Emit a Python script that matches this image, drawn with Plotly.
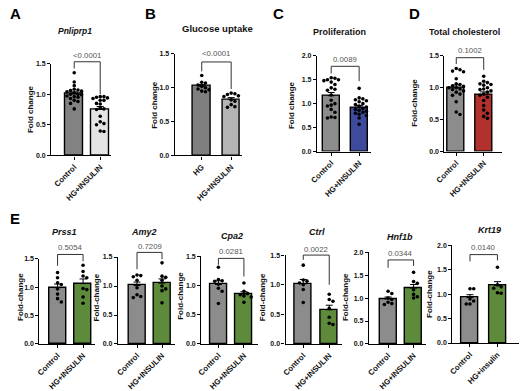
import numpy as np
import plotly.graph_objects as go

W, H = 520, 391

# ---------------- data ----------------
A_title = "Pnliprp1"
A_cats = ["Control", "HG+INSULIN"]
A_control = [1.35, 1.2, 1.14, 1.08, 1.07, 1.06, 1.05, 1.04, 1.02, 1.0, 1.0, 0.99, 0.97, 0.96, 0.95, 0.93, 0.9, 0.88, 0.85, 0.76]
A_treated = [0.96, 0.96, 0.95, 0.94, 0.93, 0.9, 0.9, 0.85, 0.84, 0.78, 0.76, 0.75, 0.64, 0.55, 0.52, 0.5, 0.4, 0.39]
A_p = "<0.0001"

B_title = "Glucose uptake"
B_cats = ["HG", "HG+INSULIN"]
B_control = [1.18, 1.08, 1.07, 1.04, 1.02, 1.0, 0.98, 0.97, 0.95, 0.94]
B_treated = [0.92, 0.91, 0.9, 0.88, 0.87, 0.82, 0.8, 0.75, 0.72, 0.71]
B_p = "<0.0001"

C_title = "Proliferation"
C_cats = ["Control", "HG+INSULIN"]
C_control = [1.54, 1.53, 1.5, 1.5, 1.48, 1.45, 1.4, 1.33, 1.3, 1.28, 1.18, 1.07, 1.0, 0.97, 0.95, 0.88, 0.82, 0.72, 0.71, 0.7]
C_treated = [1.32, 1.12, 1.1, 1.08, 1.06, 1.04, 1.0, 0.98, 0.95, 0.93, 0.9, 0.88, 0.86, 0.84, 0.82, 0.8, 0.78, 0.75, 0.7, 0.57]
C_p = "0.0089"

D_title = "Total cholesterol"
D_cats = ["Control", "HG+INSULIN"]
D_control = [1.3, 1.28, 1.26, 1.25, 1.14, 1.06, 1.05, 1.03, 1.02, 1.0, 1.0, 0.98, 0.97, 0.95, 0.93, 0.9, 0.88, 0.78, 0.62, 0.58]
D_treated = [1.18, 1.1, 1.08, 1.06, 1.05, 1.04, 1.0, 0.98, 0.97, 0.95, 0.93, 0.9, 0.88, 0.85, 0.8, 0.72, 0.65, 0.6, 0.55, 0.52]
D_p = "0.1002"

E_cats = ["Control", "HG+INSULIN"]
Krt19_cats = ["Control", "HG+insulin"]

Prss1_control = [1.26, 1.17, 1.08, 1.05, 0.97, 0.88, 0.8, 0.74]
Prss1_treated = [1.39, 1.28, 1.2, 1.17, 0.98, 0.96, 0.83, 0.72]
Prss1_p = "0.5054"

Amy2_control = [1.19, 1.18, 1.16, 1.1, 0.97, 0.85, 0.82, 0.8]
Amy2_treated = [1.4, 1.17, 1.15, 1.1, 1.0, 0.95, 0.92, 0.71]
Amy2_p = "0.7209"

Cpa2_control = [1.31, 1.1, 1.08, 1.07, 1.02, 0.95, 0.9, 0.69]
Cpa2_treated = [1.04, 0.9, 0.86, 0.84, 0.82, 0.8, 0.71]
Cpa2_p = "0.0281"

Ctrl_control = [1.33, 1.08, 1.06, 1.03, 1.0, 0.92, 0.7]
Ctrl_treated = [0.84, 0.75, 0.72, 0.6, 0.45, 0.35, 0.33]
Ctrl_p = "0.0022"

Hnf1b_control = [1.15, 1.1, 1.0, 0.97, 0.91, 0.88, 0.86]
Hnf1b_treated = [1.56, 1.36, 1.32, 1.18, 1.08, 1.03, 1.0]
Hnf1b_p = "0.0344"

Krt19_control = [1.11, 1.11, 0.9, 0.86, 0.8, 0.8]
Krt19_treated = [1.55, 1.19, 1.15, 1.12, 1.03, 1.02]
Krt19_p = "0.0140"

# ---------------- styles ----------------
GRAY = "#8c8c8c"
GREEN = "#5e8a3c"
FONT = "Arial, Liberation Sans, sans-serif"

panels = [
    dict(title=A_title, italic=True, cats=A_cats, g=[A_control, A_treated], p=A_p,
         colors=["#828282", "#e4e4e4"], ylab="Fold change",
         geo=(42, 103, 65.5, 92, 155, 61, 1.5), tpos=(66, 28), ylpos=(21, 108),
         br=(1.53, 1.42, 1.0, 1.64), tsize=8.5),
    dict(title=B_title, italic=False, cats=B_cats, g=[B_control, B_treated], p=B_p,
         colors=["#7f7f7f", "#b4b4b4"], ylab="Fold change",
         geo=(168, 237, 195.5, 225.5, 155, 51, 1.5), tpos=(212, 25), ylpos=(147, 103),
         br=(1.38, 1.24, 0.98, 1.5), tsize=9.5),
    dict(title=C_title, italic=False, cats=C_cats, g=[C_control, C_treated], p=C_p,
         colors=[GRAY, "#3e4a9c"], ylab="Fold change",
         geo=(313, 368, 327.5, 356, 151, 53, 2.0), tpos=(336, 29), ylpos=(287, 103),
         br=(1.78, 1.63, 1.47, 1.92), tsize=9),
    dict(title=D_title, italic=False, cats=D_cats, g=[D_control, D_treated], p=D_p,
         colors=[GRAY, "#b2312d"], ylab="Fold-change",
         geo=(443, 502, 455, 483, 151, 53, 1.5), tpos=(463, 29), ylpos=(413, 101),
         br=(1.47, 1.37, 1.28, 1.58), tsize=9),
    dict(title="Prss1", italic=True, cats=E_cats, g=[Prss1_control, Prss1_treated], p=Prss1_p,
         colors=[GRAY, GREEN], ylab="Fold-change",
         geo=(30, 87, 48.5, 74.5, 348, 261, 1.5), tpos=(56, 233), ylpos=(10, 300),
         br=(1.58, 1.38, 1.46, 1.7), tsize=9),
    dict(title="Amy2", italic=True, cats=E_cats, g=[Amy2_control, Amy2_treated], p=Amy2_p,
         colors=[GRAY, GREEN], ylab="Fold-change",
         geo=(110, 168, 129.5, 155, 348, 259, 1.5), tpos=(137, 233), ylpos=(88, 300),
         br=(1.58, 1.29, 1.46, 1.69), tsize=9),
    dict(title="Cpa2", italic=True, cats=E_cats, g=[Cpa2_control, Cpa2_treated], p=Cpa2_p,
         colors=[GRAY, GREEN], ylab="Fold-change",
         geo=(195, 253, 212.5, 238.5, 348, 258, 1.5), tpos=(226, 237), ylpos=(173, 299),
         br=(1.46, 1.35, 1.15, 1.57), tsize=9),
    dict(title="Ctrl", italic=True, cats=E_cats, g=[Ctrl_control, Ctrl_treated], p=Ctrl_p,
         colors=[GRAY, GREEN], ylab="Fold-change",
         geo=(281, 339, 299, 325.5, 348, 257, 1.5), tpos=(313, 233), ylpos=(257, 300),
         br=(1.5, 1.42, 1.0, 1.6), tsize=9),
    dict(title="Hnf1b", italic=True, cats=E_cats, g=[Hnf1b_control, Hnf1b_treated], p=Hnf1b_p,
         colors=[GRAY, GREEN], ylab="Fold-change",
         geo=(366, 424, 385.5, 411.5, 348, 254, 2.0), tpos=(398, 238), ylpos=(341.5, 300),
         br=(1.83, 1.66, 1.7, 1.97), tsize=9),
    dict(title="Krt19", italic=True, cats=Krt19_cats, g=[Krt19_control, Krt19_treated], p=Krt19_p,
         colors=[GRAY, GREEN], ylab="Fold-change",
         geo=(451, 519, 469, 497, 347, 247, 2.0), tpos=(489, 231), ylpos=(427, 297),
         br=(1.81, 1.67, 1.69, 1.96), tsize=9),
]

letters = [("A", 6, 10), ("B", 143, 10), ("C", 274, 10), ("D", 412, 10), ("E", 5, 220)]


def swarm(vals, ppu_y, ppu_x, d=3.7):
    vals = np.asarray(vals, float)
    order = np.argsort(-vals)
    cands = [0, 3.8, -3.8, 7.4, -7.4, 1.9, -1.9, 5.6, -5.6]
    placed = []
    offs = np.zeros(len(vals))
    for i in order:
        y = vals[i] * ppu_y
        best, bestd = 0, -1
        for c in cands:
            md = min([np.hypot(c - px, y - py) for px, py in placed] or [99])
            if md >= d:
                best = c
                break
            if md > bestd:
                best, bestd = c, md
        placed.append((best, y))
        offs[i] = best / ppu_x
    return offs


fig = go.Figure()
shapes, annotations = [], []
layout_axes = {}

for k, pnl in enumerate(panels, start=1):
    xl, xr, c0, c1, y0, yt, ymax = pnl["geo"]
    ppu_x = c1 - c0
    ppu_y = (y0 - yt) / ymax
    xa = "x" if k == 1 else f"x{k}"
    ya = "y" if k == 1 else f"y{k}"

    means = [float(np.mean(g)) for g in pnl["g"]]
    sems = [float(np.std(g, ddof=1) / np.sqrt(len(g))) for g in pnl["g"]]

    fig.add_trace(go.Bar(
        x=[0, 1], y=means, width=17.5 / ppu_x, xaxis=xa, yaxis=ya,
        marker=dict(color=pnl["colors"], line=dict(color="black", width=1.4)),
        error_y=dict(type="data", symmetric=False, array=sems, arrayminus=[0, 0],
                     color="black", thickness=1, width=3.5),
        showlegend=False, hoverinfo="skip"))
    for j, g in enumerate(pnl["g"]):
        offs = swarm(g, ppu_y, ppu_x)
        fig.add_trace(go.Scatter(
            x=j + offs, y=g, mode="markers", xaxis=xa, yaxis=ya,
            marker=dict(color="black", size=3.6, line=dict(width=0)),
            showlegend=False, hoverinfo="skip", cliponaxis=False))

    axis_common = dict(
        showline=True, linecolor="black", linewidth=1.2, ticks="outside",
        ticklen=3, tickwidth=1.1, tickcolor="black", showgrid=False, zeroline=False,
        fixedrange=True)
    layout_axes["xaxis" if k == 1 else f"xaxis{k}"] = dict(
        domain=[xl / W, xr / W], anchor=ya,
        range=[-(c0 - xl) / ppu_x, 1 + (xr - c1) / ppu_x],
        tickmode="array", tickvals=[0, 1], ticktext=pnl["cats"], tickangle=-45,
        tickfont=dict(size=7.8, color="#111", family=FONT, weight="bold"),
        **axis_common)
    layout_axes["yaxis" if k == 1 else f"yaxis{k}"] = dict(
        domain=[1 - y0 / H, 1 - yt / H], anchor=xa, range=[0, ymax],
        tickmode="linear", tick0=0, dtick=0.5, tickformat=".1f",
        tickfont=dict(size=7, color="#111", family=FONT, weight="bold"),
        **axis_common)

    def dx(x):
        return (c0 + x * ppu_x) / W

    def dy(v):
        return 1 - (y0 - v * ppu_y) / H

    top, lleg, rleg, ptext = pnl["br"]
    for (xa0, ya0, xa1, ya1) in [(0, top, 1, top), (0, lleg, 0, top), (1, rleg, 1, top)]:
        shapes.append(dict(type="line", xref="paper", yref="paper",
                           x0=dx(xa0), y0=dy(ya0), x1=dx(xa1), y1=dy(ya1),
                           line=dict(color="#333", width=1)))
    annotations.append(dict(x=dx(0.5), y=dy(ptext), xref="paper", yref="paper",
                            text=pnl["p"], showarrow=False, xanchor="center", yanchor="middle",
                            font=dict(size=7.8, color="#555", family=FONT)))
    tx, ty = pnl["tpos"]
    ttl = f"<b><i>{pnl['title']}</i></b>" if pnl["italic"] else f"<b>{pnl['title']}</b>"
    annotations.append(dict(x=tx / W, y=1 - ty / H, xref="paper", yref="paper",
                            text=ttl, showarrow=False, xanchor="center", yanchor="middle",
                            font=dict(size=pnl["tsize"], color="#111", family=FONT)))
    lx, ly = pnl["ylpos"]
    annotations.append(dict(x=lx / W, y=1 - ly / H, xref="paper", yref="paper",
                            text=f"<b>{pnl['ylab']}</b>", showarrow=False, textangle=-90,
                            xanchor="center", yanchor="middle",
                            font=dict(size=8, color="#111", family=FONT)))

for t, x, y in letters:
    annotations.append(dict(x=x / W, y=1 - y / H, xref="paper", yref="paper",
                            text=f"<b>{t}</b>", showarrow=False, xanchor="center",
                            yanchor="middle", font=dict(size=15, color="black", family=FONT)))

fig.update_layout(
    width=W, height=H, margin=dict(l=0, r=0, t=0, b=0),
    paper_bgcolor="white", plot_bgcolor="rgba(0,0,0,0)",
    bargap=0, shapes=shapes, annotations=annotations,
    font=dict(family=FONT), **layout_axes)

fig.write_html("out.html", config={"displayModeBar": False},
               post_script="document.body.style.margin='0';")
